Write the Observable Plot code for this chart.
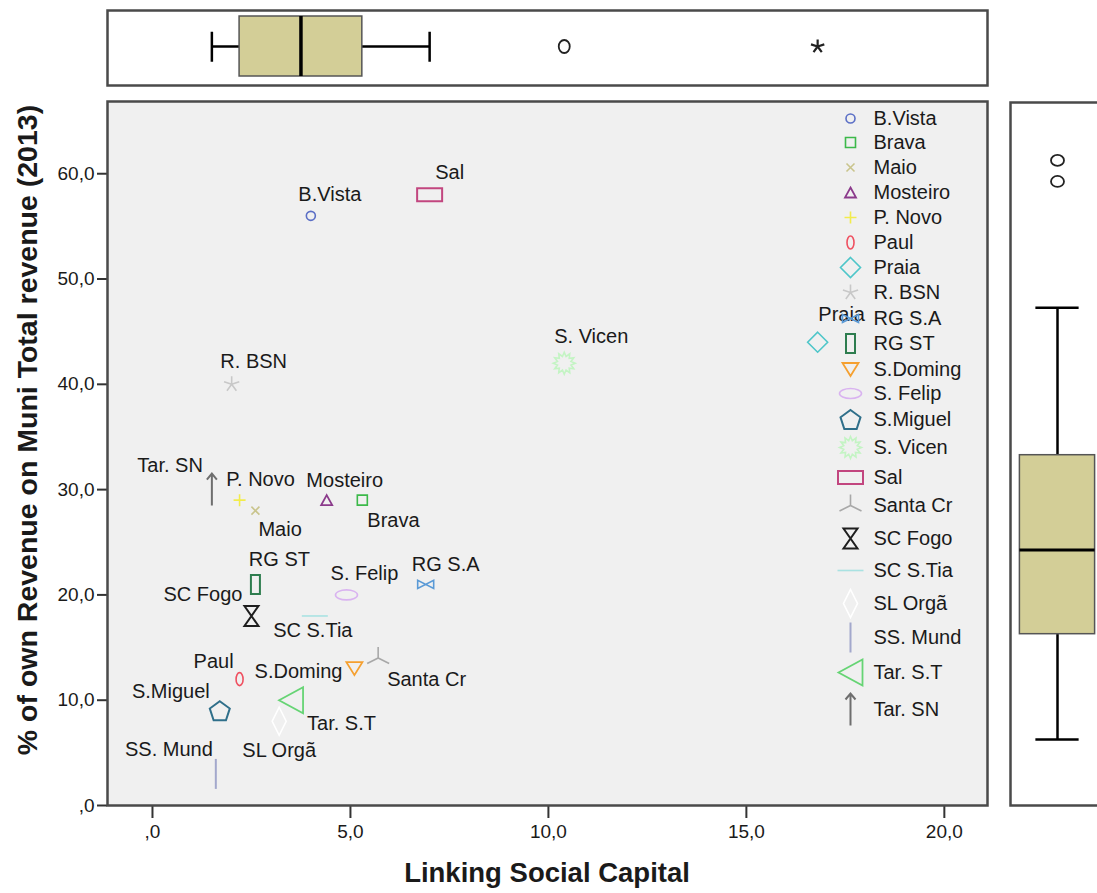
<!DOCTYPE html>
<html>
<head>
<meta charset="utf-8">
<script src="https://cdn.jsdelivr.net/npm/d3@7"></script>
<script src="https://cdn.jsdelivr.net/npm/@observablehq/plot@0.6"></script>
<style>
  html, body { margin: 0; padding: 0; background: #ffffff; overflow: hidden; }
  #chart { position: relative; width: 1097px; height: 893px; font-family: "Liberation Sans", Arial, sans-serif; color: #1a1a1a; }
  #chart svg { position: absolute; overflow: visible; }
  .axis-title { position: absolute; font-weight: bold; white-space: nowrap; line-height: 1; }
</style>
</head>
<body>
<div id="chart"></div>
<script>
// Municipalities of Cabo Verde: linking social capital vs. share of own revenue (2013)
const municipalities = ["B.Vista", "Brava", "Maio", "Mosteiro", "P. Novo", "Paul", "Praia", "R. BSN",
  "RG S.A", "RG ST", "S.Doming", "S. Felip", "S.Miguel", "S. Vicen", "Sal", "Santa Cr", "SC Fogo",
  "SC S.Tia", "SL Orgã", "SS. Mund", "Tar. S.T", "Tar. SN"];
const linkingSocialCapital = [4.0, 5.3, 2.6, 4.4, 2.2, 2.2, 16.8, 2.0, 6.9, 2.6, 5.1, 4.9, 1.7, 10.4, 7.0, 5.7, 2.5, 4.1, 3.2, 1.6, 3.5, 1.5];
const ownRevenueShare = [56, 29, 28, 29, 29, 12, 44, 40, 21, 21, 13, 20, 9, 42, 58, 14, 18, 18, 8, 3, 10, 30];

const xTicks = [0, 5, 10, 15, 20];
const xTickLabels = [",0", "5,0", "10,0", "15,0", "20,0"];
const yTicks = [0, 10, 20, 30, 40, 50, 60];
const yTickLabels = [",0", "10,0", "20,0", "30,0", "40,0", "50,0", "60,0"];

const xTitle = "Linking Social Capital";
const yTitle = "% of own Revenue on Muni Total revenue (2013)";

const FONT = "Liberation Sans, Arial, sans-serif";
const INK = "#1a1a1a";

// ---- marker shapes (d3 symbol interface: draw(context, size)) ----
const K = 0.5523;
const ellipse = (rx, ry) => ({draw(c) {
  c.moveTo(rx, 0);
  c.bezierCurveTo(rx, ry * K, rx * K, ry, 0, ry);
  c.bezierCurveTo(-rx * K, ry, -rx, ry * K, -rx, 0);
  c.bezierCurveTo(-rx, -ry * K, -rx * K, -ry, 0, -ry);
  c.bezierCurveTo(rx * K, -ry, rx, -ry * K, rx, 0);
  c.closePath();
}});
const polygon = (pts) => ({draw(c) {
  pts.forEach(([x, y], i) => i ? c.lineTo(x, y) : c.moveTo(x, y));
  c.closePath();
}});
const strokes = (segs) => ({draw(c) {
  for (const seg of segs) seg.forEach(([x, y], i) => i ? c.lineTo(x, y) : c.moveTo(x, y));
}});
const shapes = {
  circle: (r) => ({draw(c) { c.moveTo(r, 0); c.arc(0, 0, r, 0, 2 * Math.PI); c.closePath(); }}),
  ellipse,
  rect: (w, h) => polygon([[-w / 2, -h / 2], [w / 2, -h / 2], [w / 2, h / 2], [-w / 2, h / 2]]),
  diamond: (w, h) => polygon([[0, -h / 2], [w / 2, 0], [0, h / 2], [-w / 2, 0]]),
  triangleUp: (w, h) => polygon([[0, -h / 2], [w / 2, h / 2], [-w / 2, h / 2]]),
  triangleDown: (w, h) => polygon([[-w / 2, -h / 2], [w / 2, -h / 2], [0, h / 2]]),
  triangleLeft: (w, h) => polygon([[-w / 2, 0], [w / 2, -h / 2], [w / 2, h / 2]]),
  pentagon: (r) => polygon(d3.range(5).map(i => {
    const a = -Math.PI / 2 + i * 2 * Math.PI / 5;
    return [r * Math.cos(a), r * Math.sin(a) + r * 0.1];
  })),
  sunburst: (ro, ri, n) => polygon(d3.range(2 * n).map(i => {
    const a = -Math.PI / 2 + i * Math.PI / n, r = i % 2 ? ri : ro;
    return [r * Math.cos(a), r * Math.sin(a)];
  })),
  bowtie: (w, h) => polygon([[-w / 2, -h / 2], [-w / 2, h / 2], [w / 2, -h / 2], [w / 2, h / 2]]),
  hourglass: (w, h) => polygon([[-w / 2, -h / 2], [w / 2, -h / 2], [-w / 2, h / 2], [w / 2, h / 2]]),
  cross: (a) => strokes([[[-a, -a], [a, a]], [[-a, a], [a, -a]]]),
  plus: (a) => strokes([[[-a, 0], [a, 0]], [[0, -a], [0, a]]]),
  hline: (w) => strokes([[[-w / 2, 0], [w / 2, 0]]]),
  vline: (h) => strokes([[[0, -h / 2], [0, h / 2]]]),
  asterisk: (r, n) => strokes(d3.range(n).map(i => {
    const a = -Math.PI / 2 + i * 2 * Math.PI / n;
    return [[0, 0], [r * Math.cos(a), r * Math.sin(a)]];
  })),
  tripod: (r) => strokes([[[0, 0], [0, -r]], [[0, 0], [-r, r * 0.5]], [[0, 0], [r, r * 0.5]]]),
  arrowUp: (h, w) => strokes([[[0, h / 2], [0, -h / 2]], [[-w / 2, -h / 2 + w * 0.6], [0, -h / 2], [w / 2, -h / 2 + w * 0.6]]])
};

// colour, marker and stroke weight for each municipality
const markerStyle = {
  "B.Vista":  {color: "#5b6fc6", shape: shapes.circle(4.5), width: 1.6},
  "Brava":    {color: "#3cb94a", shape: shapes.rect(10, 10), width: 1.6},
  "Maio":     {color: "#c9c48c", shape: shapes.cross(4), width: 1.6},
  "Mosteiro": {color: "#8b3a8b", shape: shapes.triangleUp(11, 10), width: 1.8},
  "P. Novo":  {color: "#f2ec4c", shape: shapes.plus(6), width: 1.6},
  "Paul":     {color: "#ef5060", shape: shapes.ellipse(3.5, 6.5), width: 1.6},
  "Praia":    {color: "#4ec6c9", shape: shapes.diamond(20, 20), width: 1.6},
  "R. BSN":   {color: "#c8c8c8", shape: shapes.asterisk(8, 5), width: 1.6},
  "RG S.A":   {color: "#5a9ad6", shape: shapes.bowtie(16, 8), width: 1.6},
  "RG ST":    {color: "#2e7d4f", shape: shapes.rect(9, 19), width: 2},
  "S.Doming": {color: "#f5a030", shape: shapes.triangleDown(16, 13), width: 1.8},
  "S. Felip": {color: "#d9b3f0", shape: shapes.ellipse(11, 5), width: 1.6},
  "S.Miguel": {color: "#2f6f8a", shape: shapes.pentagon(10.5), width: 2},
  "S. Vicen": {color: "#c4f4c4", shape: shapes.sunburst(11, 7, 12), width: 1.6},
  "Sal":      {color: "#c2467f", shape: shapes.rect(25, 13), width: 2},
  "Santa Cr": {color: "#a8a8a8", shape: shapes.tripod(11), width: 1.6},
  "SC Fogo":  {color: "#1e1e1e", shape: shapes.hourglass(14, 20), width: 2},
  "SC S.Tia": {color: "#a9e2e2", shape: shapes.hline(26), width: 1.6},
  "SL Orgã":  {color: "#ffffff", shape: shapes.diamond(14, 28), width: 1.6},
  "SS. Mund": {color: "#a3a8cc", shape: shapes.vline(30), width: 2},
  "Tar. S.T": {color: "#66d474", shape: shapes.triangleLeft(24, 26), width: 1.8},
  "Tar. SN":  {color: "#6e6e6e", shape: shapes.arrowUp(32, 10), width: 2}
};

// point label placement: [text anchor, dx, dy] in pixels from the marker
const labelPlacement = {
  "B.Vista": ["middle", 19, -21], "Brava": ["start", 5, 20], "Maio": ["start", 3, 19],
  "Mosteiro": ["middle", 18, -20], "P. Novo": ["middle", 21, -21], "Paul": ["end", -6, -18],
  "Praia": ["middle", 24, -28], "R. BSN": ["middle", 22, -23], "RG S.A": ["middle", 20, -20],
  "RG ST": ["middle", 24, -25], "S.Doming": ["end", -12, 3], "S. Felip": ["middle", 18, -21],
  "S.Miguel": ["end", -10, -19], "S. Vicen": ["middle", 27, -27], "Sal": ["middle", 20, -22],
  "Santa Cr": ["start", 9, 22], "SC Fogo": ["end", -9, -21], "SC S.Tia": ["middle", -2, 15],
  "SL Orgã": ["middle", 0, 29], "SS. Mund": ["end", -3, -24], "Tar. S.T": ["start", 16, 23],
  "Tar. SN": ["end", -9, -24]
};

// legend row spacing (px) before each entry
const legendGap = [0, 24, 25, 25, 25, 25, 25, 25, 26, 25, 26, 24, 26, 28, 30, 28, 33, 32, 33, 34, 35, 37];

const rows = municipalities.map((name, i) => ({name, x: linkingSocialCapital[i], y: ownRevenueShare[i]}));

const symbolScale = {domain: municipalities, range: municipalities.map(n => markerStyle[n].shape)};
const colorScale = {domain: municipalities, range: municipalities.map(n => markerStyle[n].color)};

// shared scale extents
const xDomain = [-1.136, 21.09];
const yDomain = [0, 66.86];
const yDomainMargin = [-3.27, 63.5];

// Tukey hinges, whiskers at 1.5 IQR, extremes beyond 3 IQR
function tukeyBox(values) {
  const s = values.slice().sort(d3.ascending);
  const n = s.length;
  const depth = (Math.floor((n + 1) / 2) + 1) / 2;
  const lo = (s[Math.floor(depth) - 1] + s[Math.ceil(depth) - 1]) / 2;
  const hi = (s[n - Math.floor(depth)] + s[n - Math.ceil(depth)]) / 2;
  const iqr = hi - lo;
  const inner = s.filter(v => v >= lo - 1.5 * iqr && v <= hi + 1.5 * iqr);
  const far = v => v < lo - 3 * iqr || v > hi + 3 * iqr;
  return {
    lo, med: d3.median(s), hi, wLo: d3.min(inner), wHi: d3.max(inner),
    outliers: s.filter(v => !inner.includes(v) && !far(v)),
    extremes: s.filter(far)
  };
}

const chart = document.getElementById("chart");
const BOX_FILL = "#d3ce97";
const FRAME = "#4a4a4a";

// ---- main scatter ----
const mainPlot = Plot.plot({
  width: 1097, height: 893,
  marginLeft: 107, marginRight: 110, marginTop: 101, marginBottom: 88,
  style: {fontFamily: FONT, fontSize: "20px", color: INK, background: "transparent"},
  x: {domain: xDomain},
  y: {domain: yDomain},
  symbol: symbolScale,
  color: colorScale,
  marks: [
    Plot.frame({fill: "#f0f0f0", stroke: null}),
    Plot.axisX({ticks: xTicks, tickFormat: d => xTickLabels[xTicks.indexOf(d)], tickSize: 13, tickPadding: 6,
      fontSize: 19, label: null, stroke: "#333", strokeWidth: 2}),
    Plot.axisY({ticks: yTicks, tickFormat: d => yTickLabels[yTicks.indexOf(d)], tickSize: 10, tickPadding: 3,
      fontSize: 19, label: null, stroke: "#333", strokeWidth: 2}),
    ...municipalities.map(name => {
      const [anchor, dx, dy] = labelPlacement[name];
      return Plot.text(rows.filter(r => r.name === name), {x: "x", y: "y", text: "name",
        textAnchor: anchor, dx, dy, fontSize: 20, fill: INK});
    }),
    Plot.dot(rows, {x: "x", y: "y", symbol: "name", stroke: "name", fill: "none", r: 5,
      strokeWidth: d => markerStyle[d.name].width}),
    Plot.frame({stroke: FRAME, strokeWidth: 2.5})
  ]
});
mainPlot.style.left = "0px"; mainPlot.style.top = "0px";
chart.appendChild(mainPlot);

// ---- legend inside the plot area ----
let acc = 118;
const legendRows = municipalities.map((name, i) => ({name, ly: (acc += legendGap[i])}));
const legendPlot = Plot.plot({
  width: 1097, height: 893, margin: 0,
  style: {fontFamily: FONT, fontSize: "20px", color: INK, background: "transparent"},
  x: {type: "identity", axis: null},
  y: {type: "identity", axis: null},
  symbol: symbolScale,
  color: colorScale,
  marks: [
    Plot.dot(legendRows, {x: () => 850, y: "ly", symbol: "name", stroke: "name", fill: "none", r: 5,
      strokeWidth: d => markerStyle[d.name].width}),
    Plot.text(legendRows, {x: () => 873, y: "ly", text: "name", textAnchor: "start", fontSize: 20, fill: INK})
  ]
});
legendPlot.style.left = "0px"; legendPlot.style.top = "0px";
chart.appendChild(legendPlot);

// ---- marginal box plot of x (top) ----
const bx = tukeyBox(linkingSocialCapital);
const topPanel = Plot.plot({
  width: 1097, height: 95,
  marginLeft: 107, marginRight: 110, marginTop: 10, marginBottom: 10,
  x: {domain: xDomain, axis: null},
  y: {domain: [0, 1], axis: null},
  style: {fontFamily: FONT, background: "transparent"},
  marks: [
    Plot.frame({fill: "white", stroke: null}),
    Plot.ruleY([bx], {x1: "wLo", x2: "lo", y: () => 0.52, stroke: "#000", strokeWidth: 2.5}),
    Plot.ruleY([bx], {x1: "hi", x2: "wHi", y: () => 0.52, stroke: "#000", strokeWidth: 2.5}),
    Plot.ruleX([bx.wLo, bx.wHi], {x: d => d, y1: 0.31, y2: 0.71, stroke: "#000", strokeWidth: 2.5}),
    Plot.rect([bx], {x1: "lo", x2: "hi", y1: 0.12, y2: 0.92, fill: BOX_FILL, stroke: "#555", strokeWidth: 1.5}),
    Plot.ruleX([bx.med], {x: d => d, y1: 0.12, y2: 0.92, stroke: "#000", strokeWidth: 3.5}),
    Plot.dot(bx.outliers, {x: d => d, y: () => 0.52, symbol: ellipse(5.5, 6.5), stroke: "#222", fill: "none", strokeWidth: 1.8}),
    Plot.dot(bx.extremes, {x: d => d, y: () => 0.52, symbol: shapes.asterisk(7, 5), stroke: "#222", fill: "none", strokeWidth: 2.2}),
    Plot.frame({stroke: FRAME, strokeWidth: 2.5})
  ]
});
topPanel.style.left = "0px"; topPanel.style.top = "0px";
chart.appendChild(topPanel);

// ---- marginal box plot of y (right) ----
const by = tukeyBox(ownRevenueShare);
const rightPanel = Plot.plot({
  width: 100, height: 893,
  marginLeft: 5, marginRight: 1, marginTop: 102, marginBottom: 88,
  x: {domain: [0, 1], axis: null},
  y: {domain: yDomainMargin, axis: null},
  style: {fontFamily: FONT, background: "transparent"},
  marks: [
    Plot.frame({fill: "white", stroke: null}),
    Plot.ruleX([by], {y1: "wLo", y2: "lo", x: () => 0.5, stroke: "#000", strokeWidth: 2.5}),
    Plot.ruleX([by], {y1: "hi", y2: "wHi", x: () => 0.5, stroke: "#000", strokeWidth: 2.5}),
    Plot.ruleY([by.wLo, by.wHi], {y: d => d, x1: 0.27, x2: 0.73, stroke: "#000", strokeWidth: 2.5}),
    Plot.rect([by], {y1: "lo", y2: "hi", x1: 0.1, x2: 0.9, fill: BOX_FILL, stroke: "#555", strokeWidth: 1.5}),
    Plot.ruleY([by.med], {y: d => d, x1: 0.1, x2: 0.9, stroke: "#000", strokeWidth: 3}),
    Plot.dot(by.outliers, {y: d => d, x: () => 0.5, symbol: ellipse(6.5, 5.5), stroke: "#222", fill: "none", strokeWidth: 1.8}),
    Plot.dot(by.extremes, {y: d => d, x: () => 0.5, symbol: shapes.asterisk(7, 5), stroke: "#222", fill: "none", strokeWidth: 2.2}),
    Plot.frame({stroke: FRAME, strokeWidth: 2.5})
  ]
});
rightPanel.style.left = "1005px"; rightPanel.style.top = "0px";
chart.appendChild(rightPanel);

// ---- axis titles ----
const xt = document.createElement("div");
xt.className = "axis-title";
xt.textContent = xTitle;
xt.style.fontSize = "27.5px";
xt.style.left = "547px"; xt.style.top = "859px"; xt.style.transform = "translateX(-50%)";
chart.appendChild(xt);

const yt = document.createElement("div");
yt.className = "axis-title";
yt.textContent = yTitle;
yt.style.fontSize = "28.5px";
yt.style.left = "27px"; yt.style.top = "430px";
yt.style.transform = "translate(-50%, -50%) rotate(-90deg)";
chart.appendChild(yt);
</script>
</body>
</html>
